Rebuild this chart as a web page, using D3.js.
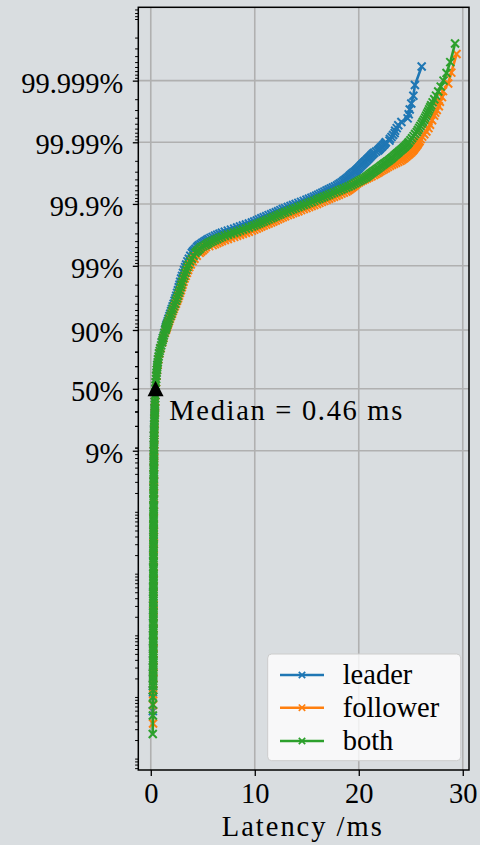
<!DOCTYPE html>
<html>
<head>
<meta charset="utf-8">
<script src="https://cdn.jsdelivr.net/npm/d3@7"></script>
<style>
  html, body { margin: 0; padding: 0; background: #d9dde0; }
  svg { display: block; }
  text { font-family: "Liberation Serif", "Times New Roman", serif; fill: #000; }
</style>
</head>
<body>
<svg id="chart" width="480" height="845"></svg>
<script>
// ---- series meta ----
const seriesNames  = ["leader", "follower", "both"];
const seriesColors = ["#1f77b4", "#ff7f0e", "#2ca02c"];

// ---- lower percentiles (in %), leader and follower ----
const lowPct = [
  0.0013, 0.0016, 0.002, 0.0025, 0.003, 0.004, 0.005, 0.006, 0.008, 0.01,
  0.013, 0.016, 0.02, 0.025, 0.03, 0.04, 0.05, 0.06, 0.08, 0.1,
  0.13, 0.16, 0.2, 0.25, 0.3, 0.4, 0.5, 0.6, 0.8, 1,
  1.3, 1.6, 2, 2.5, 3, 4, 5, 6, 7, 8, 9,
  11, 13, 15, 18, 21, 25, 29, 33, 38, 44,
  50, 56, 62, 67, 71, 75, 79, 82, 85, 87, 89
];
const leaderLowMs = [
  0.21, 0.22, 0.22, 0.22, 0.22, 0.23, 0.23, 0.23, 0.23, 0.23,
  0.24, 0.24, 0.24, 0.24, 0.24, 0.24, 0.24, 0.24, 0.25, 0.25,
  0.25, 0.25, 0.25, 0.25, 0.26, 0.26, 0.26, 0.26, 0.26, 0.26,
  0.27, 0.27, 0.27, 0.27, 0.28, 0.28, 0.28, 0.29, 0.29, 0.29, 0.29,
  0.30, 0.31, 0.31, 0.32, 0.34, 0.35, 0.37, 0.38, 0.39, 0.42,
  0.45, 0.48, 0.53, 0.58, 0.63, 0.70, 0.80, 0.91, 1.05, 1.17, 1.30
];
const followerLowMs = [
  0.23, 0.24, 0.24, 0.24, 0.24, 0.25, 0.25, 0.25, 0.25, 0.25,
  0.26, 0.26, 0.26, 0.26, 0.26, 0.26, 0.26, 0.26, 0.27, 0.27,
  0.27, 0.27, 0.27, 0.27, 0.28, 0.28, 0.28, 0.28, 0.28, 0.28,
  0.29, 0.29, 0.29, 0.29, 0.30, 0.30, 0.30, 0.31, 0.31, 0.31, 0.31,
  0.32, 0.33, 0.33, 0.34, 0.36, 0.37, 0.39, 0.40, 0.42, 0.44,
  0.47, 0.50, 0.55, 0.60, 0.66, 0.73, 0.83, 0.95, 1.10, 1.22, 1.36
];

// ---- lower percentiles (in %), combined run (finer sampling) ----
const bothLowPct = [
  0.0013, 0.0015, 0.0016, 0.0018, 0.002, 0.0022, 0.0024, 0.0027, 0.003, 0.0033,
  0.0036, 0.0039, 0.0043, 0.0047, 0.0051, 0.0056, 0.0062, 0.0068, 0.0075, 0.0082, 0.0091,
  0.01, 0.011, 0.012, 0.013, 0.015, 0.016, 0.018, 0.02, 0.022, 0.024, 0.027, 0.03,
  0.033, 0.036, 0.039, 0.043, 0.047, 0.051, 0.056, 0.062, 0.068, 0.075, 0.082, 0.091,
  0.1, 0.11, 0.12, 0.13, 0.15, 0.16, 0.18, 0.2, 0.22, 0.24, 0.27, 0.3,
  0.33, 0.36, 0.39, 0.43, 0.47, 0.51, 0.56, 0.62, 0.68, 0.75, 0.82, 0.91,
  1, 1.1, 1.2, 1.3, 1.5, 1.6, 1.8, 2, 2.2, 2.4, 2.7, 3,
  3.3, 3.6, 3.9, 4.3, 4.7, 5.1, 5.6, 6.2, 6.8, 7.5, 8.2, 9.1,
  10, 11, 12, 13, 14, 15, 16.5, 18, 19.5, 21,
  23, 25, 27, 29, 31, 33, 35.5, 38, 41, 44,
  47, 50, 53, 56, 59, 62, 64.5, 67, 69, 71,
  73, 75, 77, 79, 80.5, 82, 83.5, 85, 86, 87, 88, 89
];
const bothLowMs = [
  0.22, 0.22, 0.23, 0.23, 0.23, 0.23, 0.23, 0.23, 0.23, 0.24,
  0.24, 0.24, 0.24, 0.24, 0.24, 0.24, 0.24, 0.24, 0.24, 0.24, 0.24,
  0.24, 0.24, 0.25, 0.25, 0.25, 0.25, 0.25, 0.25, 0.25, 0.25, 0.25, 0.25,
  0.25, 0.25, 0.25, 0.25, 0.25, 0.25, 0.25, 0.25, 0.26, 0.26, 0.26, 0.26,
  0.26, 0.26, 0.26, 0.26, 0.26, 0.26, 0.26, 0.26, 0.26, 0.26, 0.26, 0.27,
  0.27, 0.27, 0.27, 0.27, 0.27, 0.27, 0.27, 0.27, 0.27, 0.27, 0.27, 0.27,
  0.27, 0.28, 0.28, 0.28, 0.28, 0.28, 0.28, 0.28, 0.28, 0.28, 0.28, 0.29,
  0.29, 0.29, 0.29, 0.29, 0.29, 0.29, 0.30, 0.30, 0.30, 0.30, 0.30, 0.30,
  0.31, 0.31, 0.31, 0.32, 0.32, 0.32, 0.33, 0.33, 0.34, 0.35,
  0.35, 0.36, 0.37, 0.38, 0.38, 0.39, 0.40, 0.40, 0.42, 0.43,
  0.44, 0.46, 0.47, 0.49, 0.51, 0.54, 0.56, 0.59, 0.61, 0.64,
  0.67, 0.71, 0.75, 0.81, 0.86, 0.93, 1.00, 1.07, 1.13, 1.19, 1.25, 1.32
];

// ---- knee percentiles (in %), shared by all runs ----
const kneePct = [
  90, 90.5, 91, 91.5, 92, 92.6, 93.2, 93.8, 94.3, 94.8,
  95.2, 95.6, 96, 96.4, 96.7, 97, 97.3, 97.55, 97.8, 98,
  98.2, 98.4, 98.55, 98.7, 98.83, 98.95, 99.05, 99.15, 99.23, 99.31,
  99.38, 99.41, 99.44, 99.47, 99.5
];
const leaderKneeMs = [
  1.38, 1.42, 1.46, 1.50, 1.56, 1.63, 1.70, 1.79, 1.87, 1.95,
  2.02, 2.10, 2.20, 2.29, 2.37, 2.45, 2.53, 2.61, 2.69, 2.76,
  2.83, 2.92, 3.01, 3.10, 3.20, 3.30, 3.40, 3.52, 3.66, 3.80,
  3.95, 4.05, 4.17, 4.30, 4.45
];
const followerKneeMs = [
  1.45, 1.50, 1.55, 1.60, 1.67, 1.75, 1.84, 1.94, 2.04, 2.12,
  2.21, 2.31, 2.42, 2.53, 2.62, 2.71, 2.80, 2.89, 2.98, 3.06,
  3.15, 3.25, 3.36, 3.47, 3.58, 3.70, 3.85, 4.02, 4.20, 4.42,
  4.70, 4.85, 5.00, 5.15, 5.30
];
const bothKneeMs = [
  1.41, 1.46, 1.50, 1.55, 1.62, 1.70, 1.78, 1.88, 1.97, 2.05,
  2.13, 2.22, 2.33, 2.43, 2.52, 2.60, 2.69, 2.78, 2.87, 2.94,
  3.02, 3.12, 3.22, 3.32, 3.42, 3.52, 3.64, 3.78, 3.95, 4.12,
  4.30, 4.42, 4.55, 4.70, 4.85
];

// ---- slow-tail percentiles (in %), shared by all runs ----
const flatPct = [
  99.518, 99.536, 99.553, 99.57, 99.586, 99.602, 99.617, 99.631, 99.645, 99.659,
  99.672, 99.684, 99.696, 99.707, 99.718, 99.729, 99.739, 99.749, 99.759, 99.768,
  99.777, 99.785, 99.793, 99.8, 99.808, 99.815, 99.822, 99.829, 99.836, 99.842,
  99.848, 99.853, 99.859, 99.864, 99.869, 99.874, 99.879, 99.883, 99.888, 99.892,
  99.896, 99.9, 99.9038, 99.9074, 99.9109, 99.9142, 99.9175, 99.9206, 99.9236, 99.9264,
  99.9292, 99.9319, 99.9344, 99.9369, 99.9393, 99.9416, 99.9438, 99.9459, 99.9479, 99.9499,
  99.9518, 99.9536, 99.9553, 99.957, 99.9586, 99.9602, 99.9617, 99.9631, 99.9645, 99.9659,
  99.9672, 99.9684, 99.9696, 99.9707, 99.9718, 99.9729, 99.9739, 99.9749, 99.9759, 99.9768,
  99.9777, 99.9785, 99.9793, 99.98, 99.9808, 99.9815, 99.9822, 99.9829, 99.9836, 99.9842,
  99.9848, 99.9853, 99.9859, 99.9864, 99.9869, 99.9874, 99.9879, 99.9883, 99.9888, 99.9892,
  99.9896, 99.99
];
const leaderFlatMs = [
  4.55, 4.65, 4.80, 4.95, 5.10, 5.25, 5.40, 5.55, 5.75, 5.95,
  6.17, 6.39, 6.61, 6.84, 7.12, 7.41, 7.71, 8.02, 8.30, 8.58,
  8.86, 9.15, 9.43, 9.72, 9.95, 10.19, 10.41, 10.63, 10.86, 11.10,
  11.33, 11.57, 11.79, 12.02, 12.24, 12.46, 12.69, 12.92, 13.18, 13.44,
  13.68, 13.93, 14.19, 14.45, 14.71, 14.97, 15.21, 15.45, 15.68, 15.90,
  16.10, 16.30, 16.50, 16.70, 16.90, 17.10, 17.30, 17.50, 17.70, 17.90,
  18.05, 18.20, 18.35, 18.50, 18.62, 18.75, 18.88, 19.00, 19.10, 19.20,
  19.32, 19.45, 19.58, 19.70, 19.80, 19.90, 20.00, 20.10, 20.20, 20.30,
  20.40, 20.50, 20.60, 20.70, 20.80, 20.90, 21.00, 21.10, 21.20, 21.30,
  21.40, 21.50, 21.68, 21.85, 21.95, 22.05, 22.15, 22.25, 22.35, 22.45,
  22.52, 22.60
];
const followerFlatMs = [
  5.62, 5.95, 6.17, 6.39, 6.61, 6.84, 7.12, 7.41, 7.71, 8.02,
  8.30, 8.58, 8.86, 9.15, 9.43, 9.72, 9.95, 10.19, 10.41, 10.63,
  10.86, 11.10, 11.33, 11.57, 11.79, 12.02, 12.24, 12.46, 12.69, 12.92,
  13.18, 13.44, 13.68, 13.93, 14.19, 14.45, 14.71, 14.97, 15.22, 15.47,
  15.72, 15.98, 16.21, 16.45, 16.68, 16.92, 17.15, 17.38, 17.62, 17.86,
  18.09, 18.33, 18.56, 18.80, 18.95, 19.10, 19.22, 19.35, 19.48, 19.60,
  19.72, 19.85, 20.02, 20.20, 20.40, 20.60, 20.80, 21.00, 21.22, 21.45,
  21.62, 21.80, 21.95, 22.10, 22.28, 22.45, 22.62, 22.80, 23.00, 23.20,
  23.40, 23.60, 23.80, 24.00, 24.15, 24.30, 24.42, 24.55, 24.68, 24.80,
  24.90, 25.00, 25.10, 25.20, 25.28, 25.35, 25.42, 25.50, 25.58, 25.65,
  25.70, 25.75
];
const bothFlatMs = [
  5.05, 5.25, 5.40, 5.55, 5.75, 5.95, 6.17, 6.39, 6.61, 6.84,
  7.12, 7.41, 7.71, 8.02, 8.30, 8.58, 8.86, 9.15, 9.43, 9.72,
  9.95, 10.19, 10.41, 10.63, 10.86, 11.10, 11.33, 11.57, 11.79, 12.02,
  12.24, 12.46, 12.69, 12.92, 13.18, 13.44, 13.68, 13.93, 14.19, 14.45,
  14.71, 14.97, 15.22, 15.47, 15.72, 15.98, 16.21, 16.45, 16.68, 16.92,
  17.15, 17.38, 17.62, 17.86, 18.09, 18.33, 18.56, 18.80, 19.02, 19.25,
  19.43, 19.62, 19.80, 19.99, 20.17, 20.36, 20.53, 20.70, 20.83, 20.97,
  21.10, 21.23, 21.36, 21.50, 21.63, 21.77, 21.90, 22.04, 22.17, 22.31,
  22.44, 22.57, 22.70, 22.84, 22.96, 23.09, 23.21, 23.33, 23.44, 23.56,
  23.67, 23.78, 23.89, 24.01, 24.12, 24.24, 24.35, 24.46, 24.56, 24.66,
  24.74, 24.82
];

// ---- sparse extremes of each run (lowest and highest samples) ----
const leaderTailPct = [0.00059, 0.00118,
  99.9906, 99.9912, 99.9918, 99.9924, 99.9929, 99.9935, 99.9941, 99.9947,
  99.9953, 99.9959, 99.9965, 99.99706, 99.99765, 99.99824, 99.99882, 99.99941];
const leaderTailMs = [0.20, 0.21,
  22.95, 23.00, 23.15, 23.30, 23.45, 23.50, 23.65, 23.80,
  24.10, 24.70, 24.80, 24.90, 25.05, 25.25, 25.40, 26.05];

const followerTailPct = [0.00037, 0.00074, 0.00111,
  99.9904, 99.9911, 99.9919, 99.9926, 99.9933, 99.9941, 99.9948, 99.9956, 99.9963,
  99.9967, 99.997, 99.9974, 99.9978, 99.99815, 99.99852, 99.99889, 99.99926, 99.99963];
const followerTailMs = [0.22, 0.22, 0.23,
  25.85, 25.95, 26.10, 26.30, 26.50, 26.70, 26.85, 27.05, 27.25,
  27.35, 27.50, 27.70, 27.80, 28.00, 28.10, 28.60, 28.90, 29.40];

const bothTailPct = [0.00025, 0.0005, 0.00075, 0.001,
  99.99074, 99.99142, 99.99206, 99.99264, 99.99319, 99.99369, 99.99416, 99.99459,
  99.99499, 99.99536, 99.9957, 99.99602, 99.99631, 99.99659, 99.99684, 99.99707,
  99.99729, 99.9975, 99.99775, 99.998, 99.99825, 99.9985, 99.99875, 99.999,
  99.99925, 99.9995, 99.99975];
const bothTailMs = [0.19, 0.20, 0.21, 0.21,
  24.97, 25.12, 25.27, 25.42, 25.58, 25.69, 25.81, 25.92,
  26.05, 26.16, 26.28, 26.39, 26.48, 26.58, 26.68, 26.77,
  26.87, 26.96, 27.10, 27.26, 27.43, 27.64, 27.88, 28.15,
  28.44, 28.80, 29.26];

// ---- axes ----
const xTicks = [0, 10, 20, 30];
const yTickPct = [9, 50, 90, 99, 99.9, 99.99, 99.999];
const yTickLabels = ["9%", "50%", "90%", "99%", "99.9%", "99.99%", "99.999%"];
const xLabel = "Latency /ms";

// ---- median annotation ----
const medianMs = 0.46;
const medianPct = 50;

// ---------------------------------------------------------------
const W = 480, H = 845;
const plot = { left: 138.3, right: 469, top: 7.3, bottom: 770 };
const FONT = 28.5;

const logit = pct => Math.log10(pct / (100 - pct));

const x = d3.scaleLinear().domain([-1.2, 30.6]).range([plot.left, plot.right]);
const y = d3.scaleLinear().domain([-6.185, 6.19]).range([plot.bottom, plot.top]);

const svg = d3.select("#chart");
svg.append("rect").attr("width", W).attr("height", H).attr("fill", "#d9dde0");

svg.append("defs").append("clipPath").attr("id", "plotClip")
  .append("rect")
  .attr("x", plot.left).attr("y", plot.top)
  .attr("width", plot.right - plot.left).attr("height", plot.bottom - plot.top);

// grid
const grid = svg.append("g").attr("stroke", "#b0b0b0").attr("stroke-width", 1.6);
grid.selectAll("line.gx").data(xTicks).join("line")
  .attr("x1", d => x(d)).attr("x2", d => x(d))
  .attr("y1", plot.top).attr("y2", plot.bottom);
grid.selectAll("line.gy").data(yTickPct).join("line")
  .attr("x1", plot.left).attr("x2", plot.right)
  .attr("y1", d => y(logit(d))).attr("y2", d => y(logit(d)));

// curves
function buildSeries(parts) {
  const pts = [];
  parts.forEach(([pcts, ms]) => pcts.forEach((p, i) => pts.push({ pct: p, ms: ms[i] })));
  pts.sort((a, b) => a.pct - b.pct);
  return pts;
}
const seriesData = [
  buildSeries([[lowPct, leaderLowMs], [kneePct, leaderKneeMs], [flatPct, leaderFlatMs],
               [leaderTailPct, leaderTailMs]]),
  buildSeries([[lowPct, followerLowMs], [kneePct, followerKneeMs], [flatPct, followerFlatMs],
               [followerTailPct, followerTailMs]]),
  buildSeries([[bothLowPct, bothLowMs], [kneePct, bothKneeMs], [flatPct, bothFlatMs],
               [bothTailPct, bothTailMs]])
];

const line = d3.line().x(d => x(d.ms)).y(d => y(logit(d.pct)));
const crossPath = s => `M${-s},${-s}L${s},${s}M${-s},${s}L${s},${-s}`;

const curves = svg.append("g").attr("clip-path", "url(#plotClip)");
seriesData.forEach((pts, i) => {
  const g = curves.append("g");
  g.append("path").datum(pts)
    .attr("d", line)
    .attr("fill", "none")
    .attr("stroke", seriesColors[i])
    .attr("stroke-width", 2.6)
    .attr("stroke-linejoin", "round");
  g.selectAll("path.m").data(pts).join("path")
    .attr("class", "m")
    .attr("d", crossPath(4))
    .attr("transform", d => `translate(${x(d.ms)},${y(logit(d.pct))})`)
    .attr("fill", "none")
    .attr("stroke", seriesColors[i])
    .attr("stroke-width", 2);
});

// median marker and label
const mx = x(medianMs), my = y(logit(medianPct));
svg.append("path")
  .attr("d", `M${mx},${my - 8}L${mx + 8},${my + 7.5}L${mx - 8},${my + 7.5}Z`)
  .attr("fill", "#000");
svg.append("text")
  .attr("x", 169.3).attr("y", 420)
  .attr("font-size", FONT)
  .attr("textLength", 233).attr("lengthAdjust", "spacing")
  .text(`Median = ${medianMs} ms`);

// frame
svg.append("rect")
  .attr("x", plot.left).attr("y", plot.top)
  .attr("width", plot.right - plot.left).attr("height", plot.bottom - plot.top)
  .attr("fill", "none").attr("stroke", "#000").attr("stroke-width", 1.5);

// y axis: major, then minor ticks
const yMajorL = yTickPct.map(logit);
const yAxis = d3.axisLeft(y)
  .tickValues(yMajorL)
  .tickFormat((d, i) => yTickLabels[i])
  .tickSize(5.5).tickPadding(9.5);
const gy = svg.append("g").attr("transform", `translate(${plot.left},0)`).call(yAxis);
gy.select(".domain").remove();
gy.selectAll(".tick line").attr("stroke", "#000").attr("stroke-width", 1.3);
gy.selectAll(".tick text")
  .attr("font-family", "Liberation Serif, serif")
  .attr("font-size", FONT).attr("dy", "0.41em");

const minorPct = [];
for (let n = 1; n <= 7; n++) {
  for (let k = 1; k <= 9; k++) {
    const v = k * Math.pow(10, 2 - n);
    minorPct.push(v, 100 - v);
  }
}
[20, 30, 40, 60, 70, 80].forEach(v => minorPct.push(v));
const [yLo, yHi] = y.domain();
const minorL = minorPct.map(logit)
  .filter(L => L > yLo && L < yHi)
  .filter(L => yMajorL.every(M => Math.abs(y(L) - y(M)) > 0.6));
const yMinor = d3.axisLeft(y).tickValues(minorL).tickFormat("").tickSize(3.2);
const gym = svg.append("g").attr("transform", `translate(${plot.left},0)`).call(yMinor);
gym.select(".domain").remove();
gym.selectAll(".tick line").attr("stroke", "#000").attr("stroke-width", 1);

// x axis
const xAxis = d3.axisBottom(x).tickValues(xTicks).tickSize(6).tickPadding(7);
const gx = svg.append("g").attr("transform", `translate(0,${plot.bottom})`).call(xAxis);
gx.select(".domain").remove();
gx.selectAll(".tick line").attr("stroke", "#000").attr("stroke-width", 1.3);
gx.selectAll(".tick text")
  .attr("font-family", "Liberation Serif, serif")
  .attr("font-size", FONT);

svg.append("text")
  .attr("x", (x(0) + x(30)) / 2 - 5).attr("y", 836)
  .attr("text-anchor", "middle")
  .attr("font-size", FONT)
  .attr("textLength", 160).attr("lengthAdjust", "spacing")
  .text(xLabel);

// legend
const lg = svg.append("g");
lg.append("rect")
  .attr("x", 267.7).attr("y", 654).attr("width", 193).attr("height", 106.7)
  .attr("rx", 4).attr("ry", 4)
  .attr("fill", "rgba(255,255,255,0.8)")
  .attr("stroke", "#cccccc").attr("stroke-width", 1);
const rowsY = [675, 707.7, 741];
seriesNames.forEach((name, i) => {
  const ry = rowsY[i];
  lg.append("line")
    .attr("x1", 280).attr("x2", 324).attr("y1", ry).attr("y2", ry)
    .attr("stroke", seriesColors[i]).attr("stroke-width", 2.6);
  lg.append("path")
    .attr("d", crossPath(3.2))
    .attr("transform", `translate(302,${ry})`)
    .attr("fill", "none").attr("stroke", seriesColors[i]).attr("stroke-width", 1.7);
  lg.append("text")
    .attr("x", 342.7).attr("y", ry + 9)
    .attr("font-size", FONT)
    .text(name);
});
</script>
</body>
</html>
